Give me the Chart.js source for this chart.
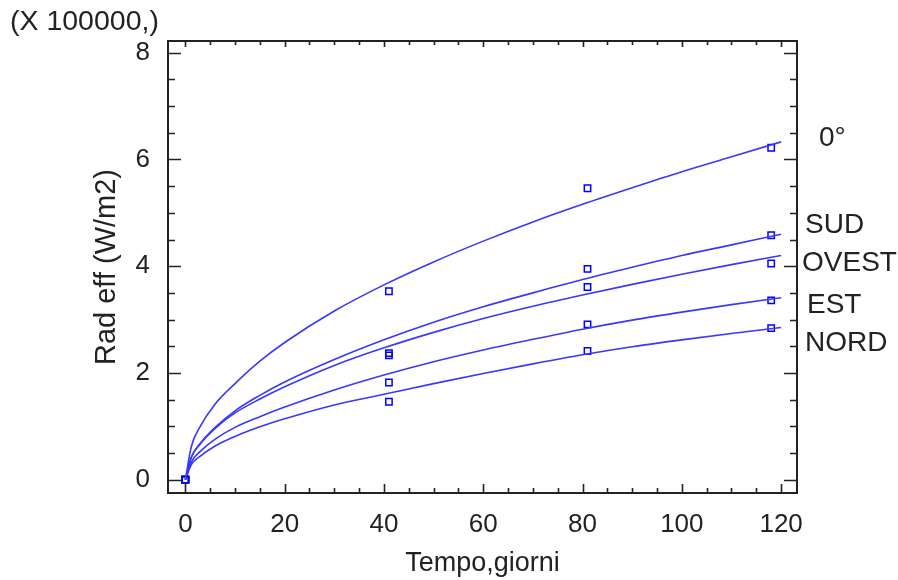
<!DOCTYPE html>
<html>
<head>
<meta charset="utf-8">
<title>Rad eff</title>
<script src="https://cdn.jsdelivr.net/npm/chart.js@4.4.1/dist/chart.umd.min.js"></script>
<style>
body { margin: 0; background: #fff; }
</style>
</head>
<body>
<canvas id="mycanvas" width="898" height="580"></canvas>
<script>
// giorni delle misure
var giorni_misure = [0, 41, 81, 118];
// giorni su cui sono campionate le curve di regressione
var giorni_curva = [0, 1.2, 3, 6, 10, 15, 20, 30, 40, 50, 60, 70, 80, 90, 100, 110, 120];

var esposizioni = ['0°', 'SUD', 'OVEST', 'EST', 'NORD'];

// misure (x 100000 W/m2)
var misure_0     = [0, 3.53, 5.46, 6.22];
var misure_sud   = [0, 2.37, 3.95, 4.58];
var misure_ovest = [0, 2.33, 3.61, 4.05];
var misure_est   = [0, 1.82, 2.91, 3.36];
var misure_nord  = [0, 1.46, 2.41, 2.84];

// curve di regressione
var curva_0     = [0, 0.62, 1.00, 1.42, 1.80, 2.22, 2.57, 3.16, 3.65, 4.08, 4.47, 4.83, 5.16, 5.47, 5.77, 6.05, 6.33];
var curva_sud   = [0, 0.42, 0.68, 0.98, 1.29, 1.58, 1.83, 2.25, 2.62, 2.95, 3.24, 3.50, 3.75, 3.98, 4.20, 4.40, 4.60];
var curva_ovest = [0, 0.42, 0.67, 0.96, 1.25, 1.51, 1.74, 2.14, 2.47, 2.76, 3.02, 3.25, 3.46, 3.66, 3.85, 4.03, 4.20];
var curva_est   = [0, 0.33, 0.53, 0.76, 0.98, 1.18, 1.36, 1.68, 1.96, 2.21, 2.43, 2.63, 2.82, 2.99, 3.14, 3.28, 3.41];
var curva_nord  = [0, 0.28, 0.44, 0.63, 0.81, 0.99, 1.14, 1.40, 1.60, 1.80, 1.99, 2.17, 2.34, 2.49, 2.62, 2.74, 2.85];

var tick_x = [0, 20, 40, 60, 80, 100, 120];
var tick_y = [0, 2, 4, 6, 8];

var misure = [misure_0, misure_sud, misure_ovest, misure_est, misure_nord];
var curve = [curva_0, curva_sud, curva_ovest, curva_est, curva_nord];

var blu = 'rgb(55, 55, 255)';
var testo = '#222';

function punti(xs, ys) {
	var out = [];
	for (var i in xs) {
		out.push({x: xs[i], y: ys[i]});
	}
	return out;
}

var datasets = [];
for (var i in esposizioni) {
	datasets.push({
		label: esposizioni[i],
		data: punti(giorni_curva, curve[i]),
		showLine: true,
		borderColor: blu,
		borderWidth: 1.6,
		pointRadius: 0,
		cubicInterpolationMode: 'monotone'
	});
	datasets.push({
		label: esposizioni[i] + ' misure',
		data: punti(giorni_misure, misure[i]),
		showLine: false,
		pointStyle: 'rect',
		pointRadius: 4.5,
		borderColor: 'rgb(0, 0, 255)',
		borderWidth: 1.5,
		backgroundColor: 'rgba(0,0,0,0)'
	});
}

// cornice con tacche interne, moltiplicatore e nomi delle curve
var cornice = {
	id: 'cornice',
	afterDraw: function(chart) {
		var ctx = chart.ctx;
		var a = chart.chartArea;
		var sx = chart.scales.x;
		var sy = chart.scales.y;
		ctx.save();
		ctx.strokeStyle = testo;
		ctx.lineWidth = 2;
		ctx.strokeRect(a.left, a.top, a.right - a.left, a.bottom - a.top);

		ctx.lineWidth = 1.6;
		ctx.beginPath();
		for (var v = 0; v <= 120; v += 5) {
			var px = Math.round(sx.getPixelForValue(v)) + 0.5;
			var big = v % 20 === 0;
			ctx.moveTo(px, a.bottom);
			ctx.lineTo(px, a.bottom - (big ? 9 : 5));
			ctx.moveTo(px, a.top);
			ctx.lineTo(px, a.top + (big ? 6 : 4));
		}
		for (var w = 0; w <= 8; w += 0.5) {
			var py = Math.round(sy.getPixelForValue(w)) + 0.5;
			var bigy = w % 2 === 0;
			ctx.moveTo(a.left, py);
			ctx.lineTo(a.left + (bigy ? 13 : 7), py);
			ctx.moveTo(a.right, py);
			ctx.lineTo(a.right - (bigy ? 13 : 7), py);
		}
		ctx.stroke();

		ctx.fillStyle = testo;
		ctx.textBaseline = 'middle';
		ctx.textAlign = 'left';
		ctx.font = '28.5px "Liberation Sans", Arial, sans-serif';
		ctx.fillText('(X 100000,)', 10, 22);

		var pos = [[819, 138], [805, 225], [802, 263], [807, 305], [805, 343]];
		ctx.font = '28px "Liberation Sans", Arial, sans-serif';
		for (var k in esposizioni) {
			ctx.fillText(esposizioni[k], pos[k][0], pos[k][1]);
		}
		ctx.restore();
	}
};

Chart.defaults.font.family = '"Liberation Sans", Arial, sans-serif';
Chart.defaults.color = testo;

var ctx = document.getElementById('mycanvas');

var grafico = new Chart(ctx, {
	type: 'scatter',
	data: { datasets: datasets },
	plugins: [cornice],
	options: {
		responsive: false,
		animation: false,
		layout: { padding: { top: 41, right: 101, left: 0, bottom: 0 } },
		plugins: {
			legend: { display: false },
			tooltip: { enabled: false }
		},
		scales: {
			x: {
				type: 'linear',
				min: -3.5,
				max: 123.2,
				grid: { display: false },
				border: { display: false },
				afterBuildTicks: function(scale) {
					scale.ticks = tick_x.map(function(v) { return {value: v}; });
				},
				afterFit: function(scale) { scale.height = 87; },
				ticks: {
					font: { size: 26 },
					padding: 8,
					maxRotation: 0,
					autoSkip: false
				},
				title: {
					display: true,
					text: 'Tempo,giorni',
					font: { size: 27 },
					padding: { top: 0, bottom: 0 }
				}
			},
			y: {
				type: 'linear',
				min: -0.25,
				max: 8.22,
				grid: { display: false },
				border: { display: false },
				afterBuildTicks: function(scale) {
					scale.ticks = tick_y.map(function(v) { return {value: v}; });
				},
				afterFit: function(scale) { scale.width = 168; },
				ticks: {
					font: { size: 26 },
					padding: 10,
					autoSkip: false
				},
				title: {
					display: true,
					text: 'Rad eff (W/m2)',
					font: { size: 29 },
					padding: { top: 90, bottom: 0 }
				}
			}
		}
	}
});
</script>
</body>
</html>
